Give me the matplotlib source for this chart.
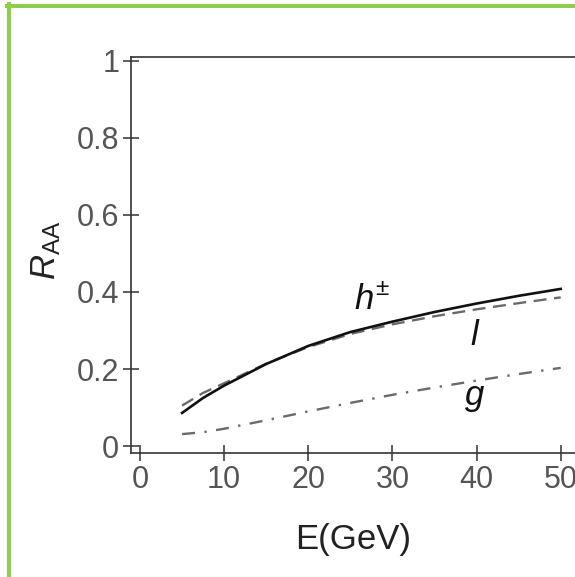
import matplotlib
matplotlib.use('Agg')
import matplotlib.pyplot as plt
from matplotlib.lines import Line2D

plt.rcParams['font.family'] = ['Liberation Sans', 'DejaVu Sans']
plt.rcParams['mathtext.fontset'] = 'custom'
plt.rcParams['mathtext.rm'] = 'Liberation Sans'
plt.rcParams['mathtext.it'] = 'Liberation Sans:italic'

# energy grid (GeV)
energy = [5, 7.5, 10, 15, 20, 25, 30, 35, 40, 45, 50]

# nuclear modification factors
raa_hadron = [0.086, 0.125, 0.157, 0.213, 0.260, 0.296, 0.323, 0.348, 0.370, 0.390, 0.408]
raa_light = [0.105, 0.138, 0.163, 0.214, 0.257, 0.291, 0.316, 0.337, 0.355, 0.371, 0.386]
raa_gluon = [0.031, 0.036, 0.045, 0.067, 0.090, 0.112, 0.133, 0.152, 0.170, 0.187, 0.203]

x_ticks = [0, 10, 20, 30, 40, 50]
y_ticks = [0, 0.2, 0.4, 0.6, 0.8, 1.0]
y_tick_labels = ['0', '0.2', '0.4', '0.6', '0.8', '1']

fig = plt.figure(figsize=(5.75, 5.77), dpi=100)
fig.patch.set_facecolor('white')

# axes runs off the right edge like the original crop
ax = fig.add_axes([0.2278, 0.2149, 1 - 0.2278, 0.6863])

ax.plot(energy, raa_light, color='#6a6a6a', lw=1.7, linestyle=(0, (5.5, 3.2)))
ax.plot(energy, raa_hadron, color='#111111', lw=1.9)
ax.plot(energy, raa_gluon, color='#6a6a6a', lw=1.7, linestyle=(0, (5.5, 4, 1, 4)))

ax.text(25.4, 0.357, r'$h^{\pm}$', fontsize=25, ha='left', va='baseline', color='#111111')
ax.text(39.8, 0.262, r'$l$', fontsize=25, ha='center', va='baseline', color='#111111')
ax.text(39.8, 0.106, r'$g$', fontsize=25, ha='center', va='baseline', color='#111111')

ax.set_xlim(-1.07, 51.7)
ax.set_ylim(-0.018, 1.01)
ax.set_xticks(x_ticks)
ax.set_yticks(y_ticks)
ax.set_yticklabels(y_tick_labels)

ax.spines['right'].set_visible(False)
for s in ['left', 'top', 'bottom']:
    ax.spines[s].set_color('#333333')
    ax.spines[s].set_linewidth(1.2)

ax.tick_params(direction='inout', length=11, width=1.1, color='#333333',
               labelsize=22, labelcolor='#555555', pad=3)

ax.set_xlabel('E(GeV)', fontsize=25, color='#222222')
ax.xaxis.set_label_coords(0.5, -0.177)
ax.set_ylabel(r'$\mathit{R}_{\mathrm{AA}}$', fontsize=25, color='#222222')
ax.yaxis.set_label_coords(-0.153, 0.511)

# green frame around the picture
green = '#8ccf4c'
fig.add_artist(Line2D([8.5 / 575, 8.5 / 575], [0, 1 - 4 / 577], transform=fig.transFigure,
                      color=green, lw=2.9))
fig.add_artist(Line2D([6.5 / 575, 1], [1 - 6 / 577, 1 - 6 / 577], transform=fig.transFigure,
                      color=green, lw=2.9))
fig.add_artist(Line2D([8.5 / 575, 1], [0.5 / 577, 0.5 / 577], transform=fig.transFigure,
                      color='#d6efc2', lw=0.8))

fig.savefig('out.png', dpi=100)
plt.close(fig)
